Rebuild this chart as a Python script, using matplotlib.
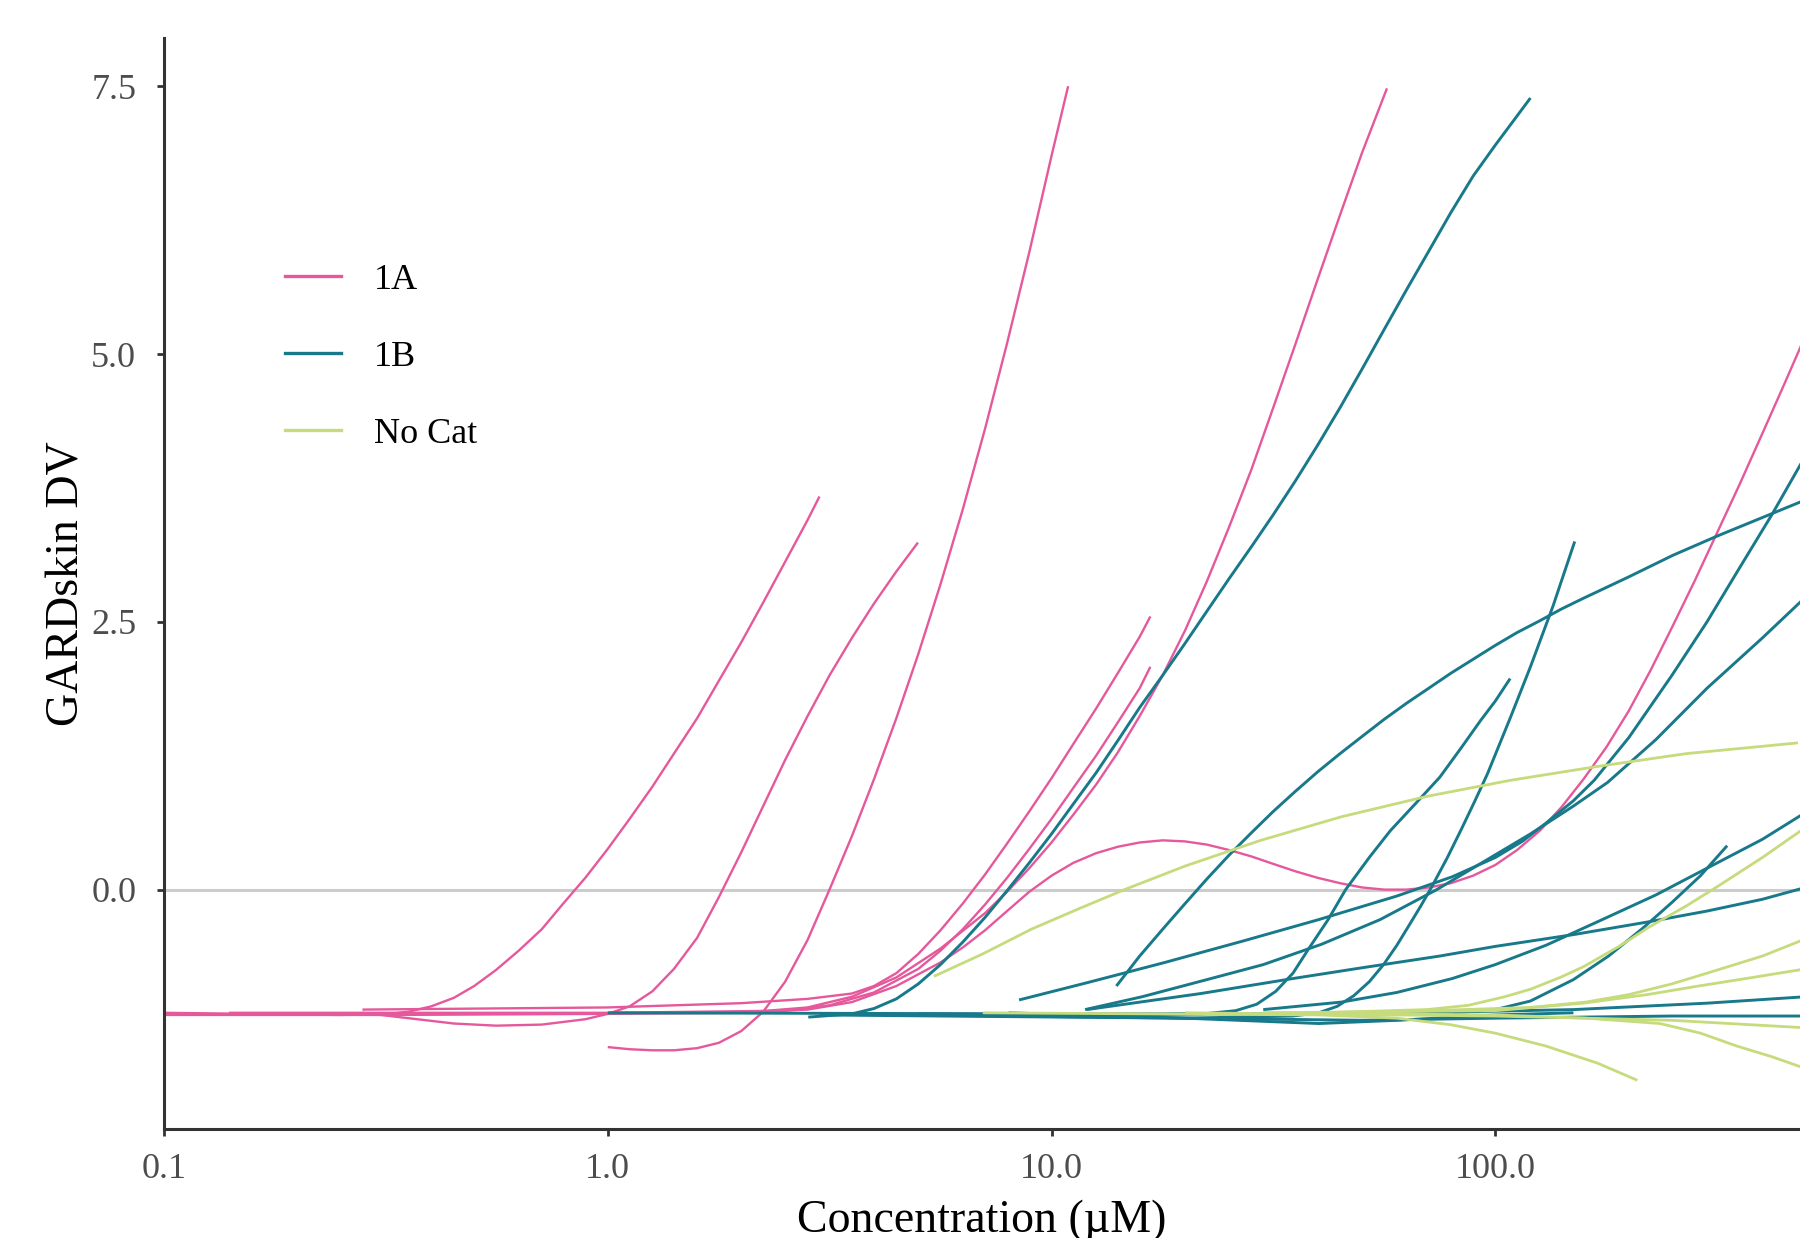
import matplotlib
matplotlib.use("Agg")
import matplotlib.pyplot as plt
from matplotlib.lines import Line2D

plt.rcParams["font.family"] = ["Liberation Serif", "DejaVu Serif"]

# %% data: each fitted response curve (concentration in uM, DV)

# category 1A
a1_x = [0.1, 0.16, 0.25, 0.32, 0.355, 0.40, 0.45, 0.50, 0.56, 0.63, 0.71, 0.79, 0.89,
        1.0, 1.12, 1.26, 1.41, 1.59, 1.78, 2.0, 2.24, 2.51, 2.82, 3.0]
a1_y = [-1.15, -1.16, -1.17, -1.16, -1.14, -1.09, -1.01, -0.90, -0.75, -0.57, -0.37, -0.14, 0.11,
        0.38, 0.66, 0.96, 1.27, 1.60, 1.95, 2.31, 2.68, 3.06, 3.45, 3.67]

a2_x = [0.28, 0.355, 0.45, 0.56, 0.71, 0.89, 1.0, 1.12, 1.26, 1.41, 1.59, 1.78, 2.0,
        2.24, 2.51, 2.82, 3.16, 3.55, 3.98, 4.47, 5.0]
a2_y = [-1.15, -1.20, -1.25, -1.27, -1.26, -1.21, -1.16, -1.09, -0.95, -0.74, -0.45, -0.07, 0.35,
        0.78, 1.21, 1.62, 2.0, 2.35, 2.67, 2.97, 3.24]

a3_x = [1.0, 1.12, 1.26, 1.41, 1.59, 1.78, 2.0, 2.24, 2.51, 2.82, 3.16, 3.55, 3.98,
        4.47, 5.01, 5.62, 6.31, 7.08, 7.94, 8.91, 10.0, 10.9]
a3_y = [-1.47, -1.49, -1.50, -1.50, -1.48, -1.43, -1.32, -1.14, -0.86, -0.47, 0.0, 0.5, 1.03,
        1.6, 2.2, 2.85, 3.55, 4.3, 5.1, 5.95, 6.85, 7.5]

a4_x = [0.1, 0.32, 1.0, 2.0, 2.82, 3.55, 4.47, 5.62, 7.08, 7.94, 8.91, 10.0, 11.2, 12.6,
        14.1, 15.8, 17.8, 20.0, 22.4, 25.1, 28.2, 31.6, 35.5, 39.8, 44.7, 50.1, 57]
a4_y = [-1.17, -1.17, -1.16, -1.15, -1.10, -1.0, -0.82, -0.55, -0.22, -0.02, 0.2, 0.44, 0.7, 0.98,
        1.28, 1.62, 2.0, 2.42, 2.88, 3.38, 3.92, 4.5, 5.1, 5.7, 6.3, 6.88, 7.48]

a5_x = [0.28, 1.0, 2.0, 2.82, 3.55, 3.98, 4.47, 5.01, 5.62, 6.31, 7.08, 7.94, 8.91,
        10.0, 11.2, 12.6, 14.1, 15.8, 16.7]
a5_y = [-1.12, -1.10, -1.06, -1.02, -0.97, -0.90, -0.78, -0.6, -0.38, -0.13, 0.14, 0.43, 0.73,
        1.04, 1.36, 1.69, 2.02, 2.36, 2.55]

a6_x = [0.14, 1.0, 2.51, 3.16, 3.98, 5.01, 5.62, 6.31, 7.08, 7.94, 8.91, 10.0, 11.2,
        12.6, 14.1, 15.8, 16.7]
a6_y = [-1.15, -1.15, -1.13, -1.08, -0.96, -0.74, -0.57, -0.37, -0.14, 0.11, 0.38, 0.66, 0.95,
        1.25, 1.56, 1.88, 2.08]

a7_x = [2.0, 2.82, 3.55, 4.47, 5.62, 6.31, 7.08, 7.94, 8.91, 10.0, 11.2, 12.6, 14.1, 15.8,
        17.8, 20.0, 22.4, 25.1, 28.2, 31.6, 35.5, 39.8, 44.7, 50.1, 56.2, 63.1, 70.8, 79.4,
        89.1, 100, 112, 126, 141, 158, 178, 200, 224, 251, 282, 316, 355, 398, 447, 501]
a7_y = [-1.15, -1.12, -1.05, -0.90, -0.68, -0.54, -0.38, -0.2, -0.02, 0.13, 0.25, 0.34, 0.40, 0.44,
        0.46, 0.45, 0.42, 0.37, 0.31, 0.24, 0.17, 0.11, 0.06, 0.02, 0.0, 0.0, 0.02, 0.06,
        0.13, 0.23, 0.37, 0.55, 0.77, 1.03, 1.33, 1.67, 2.05, 2.46, 2.89, 3.33, 3.78, 4.24, 4.71, 5.18]

# category 1B
b1_x = [2.83, 3.55, 3.98, 4.47, 5.01, 5.62, 6.31, 7.08, 7.94, 8.91, 10.0, 11.2, 12.6, 14.1,
        15.8, 17.8, 20.0, 22.4, 25.1, 28.2, 31.6, 35.5, 39.8, 44.7, 50.1, 56.2, 63.1, 70.8,
        79.4, 89.1, 100, 110, 120]
b1_y = [-1.19, -1.16, -1.11, -1.02, -0.88, -0.70, -0.49, -0.26, -0.01, 0.25, 0.52, 0.80, 1.09, 1.39,
        1.70, 2.0, 2.3, 2.6, 2.9, 3.2, 3.5, 3.82, 4.15, 4.5, 4.86, 5.23, 5.6, 5.96,
        6.32, 6.66, 6.95, 7.18, 7.39]

b2_x = [14, 15.8, 17.8, 20.0, 22.4, 25.1, 28.2, 31.6, 35.5, 39.8, 44.7, 50.1, 56.2, 63.1,
        70.8, 79.4, 89.1, 100, 112, 126, 141, 158, 200, 251, 316, 398, 501]
b2_y = [-0.9, -0.62, -0.37, -0.13, 0.1, 0.32, 0.53, 0.73, 0.92, 1.10, 1.27, 1.43, 1.59, 1.74,
        1.88, 2.02, 2.15, 2.28, 2.40, 2.51, 2.62, 2.72, 2.92, 3.12, 3.30, 3.47, 3.64]

b3_x = [5, 15, 22, 26, 29, 32, 35, 38, 42, 46, 52, 58, 66, 75, 84, 92.7, 100, 108]
b3_y = [-1.16, -1.17, -1.16, -1.13, -1.07, -0.95, -0.78, -0.55, -0.28, 0.0, 0.3, 0.55, 0.8, 1.05,
        1.33, 1.58, 1.76, 1.97]

b4_x = [5, 20, 35, 40, 44, 48, 52, 56, 60, 64, 68, 72, 78, 84, 90, 96, 108, 120, 135, 151]
b4_y = [-1.17, -1.2, -1.18, -1.15, -1.09, -0.99, -0.86, -0.7, -0.52, -0.33, -0.15, 0.03, 0.3, 0.57,
        0.83, 1.08, 1.6, 2.08, 2.65, 3.25]

b5_x = [8.45, 12, 18, 27, 40, 60, 80, 100, 115, 130, 150, 167, 200, 250, 300, 350, 420, 500]
b5_y = [-1.03, -0.87, -0.68, -0.48, -0.28, -0.06, 0.12, 0.3, 0.45, 0.62, 0.83, 1.02, 1.42, 2.0,
        2.5, 2.96, 3.5, 4.05]

b6_x = [11.9, 16, 22.4, 30, 40.6, 55, 73.8, 95, 120, 150, 179, 230, 300, 400, 500]
b6_y = [-1.12, -1.0, -0.84, -0.7, -0.51, -0.28, 0.0, 0.27, 0.52, 0.78, 1.0, 1.4, 1.88, 2.35, 2.73]

b7_x = [30, 45, 60, 80, 100, 130, 170, 230, 300, 400, 500]
b7_y = [-1.12, -1.05, -0.96, -0.83, -0.7, -0.52, -0.3, -0.05, 0.2, 0.47, 0.72]

b8_x = [12, 21.7, 35, 50, 75, 100, 150, 222, 300, 400, 500]
b8_y = [-1.12, -0.97, -0.83, -0.73, -0.62, -0.53, -0.42, -0.3, -0.2, -0.09, 0.02]

b9_x = [80, 100, 120, 150, 180, 215, 250, 290, 333]
b9_y = [-1.15, -1.12, -1.04, -0.84, -0.62, -0.36, -0.12, 0.13, 0.41]

b10_x = [1.0, 10, 50, 150, 300, 500]
b10_y = [-1.15, -1.16, -1.16, -1.12, -1.06, -1.0]

b11_x = [3.0, 20, 50, 100, 250, 500]
b11_y = [-1.17, -1.2, -1.22, -1.2, -1.18, -1.18]

b12_x = [8, 20, 40, 60, 100, 150]
b12_y = [-1.15, -1.2, -1.25, -1.22, -1.17, -1.15]

# no category
c1_x = [5.43, 7, 9, 11.5, 14.6, 20, 29.6, 45, 70, 108, 170, 270, 481]
c1_y = [-0.81, -0.6, -0.37, -0.18, 0.0, 0.22, 0.46, 0.68, 0.87, 1.02, 1.15, 1.27, 1.37]

c2_x = [7, 40, 60, 79, 100, 130, 170, 209]
c2_y = [-1.15, -1.17, -1.2, -1.26, -1.34, -1.46, -1.62, -1.78]

c3_x = [30, 100, 160, 235, 290, 350, 420, 500]
c3_y = [-1.15, -1.17, -1.2, -1.25, -1.34, -1.46, -1.56, -1.67]

c4_x = [20, 100, 250, 500]
c4_y = [-1.15, -1.18, -1.22, -1.29]

c5_x = [30, 100, 158, 220, 287, 380, 500]
c5_y = [-1.15, -1.13, -1.06, -0.98, -0.9, -0.82, -0.74]

c6_x = [50, 120, 160, 200, 250, 300, 400, 500]
c6_y = [-1.15, -1.1, -1.05, -0.98, -0.88, -0.78, -0.62, -0.46]

c7_x = [40, 70, 87, 105, 120, 140, 158, 190, 222, 270, 317, 400, 500]
c7_y = [-1.15, -1.12, -1.08, -1.0, -0.93, -0.82, -0.72, -0.53, -0.35, -0.15, 0.03, 0.3, 0.58]

categories = ["1A", "1B", "No Cat"]
colors = ["#E5589B", "#17798A", "#C6DB7C"]
curves = [
    [(a1_x, a1_y), (a2_x, a2_y), (a3_x, a3_y), (a4_x, a4_y), (a5_x, a5_y),
     (a6_x, a6_y), (a7_x, a7_y)],
    [(b1_x, b1_y), (b2_x, b2_y), (b3_x, b3_y), (b4_x, b4_y), (b5_x, b5_y),
     (b6_x, b6_y), (b7_x, b7_y), (b8_x, b8_y), (b9_x, b9_y), (b10_x, b10_y),
     (b11_x, b11_y), (b12_x, b12_y)],
    [(c1_x, c1_y), (c2_x, c2_y), (c3_x, c3_y), (c4_x, c4_y), (c5_x, c5_y),
     (c6_x, c6_y), (c7_x, c7_y)],
]
line_widths = [1.7, 2.1, 2.0]

x_ticks = [0.1, 1, 10, 100]
x_tick_labels = ["0.1", "1.0", "10.0", "100.0"]
y_ticks = [0, 2.5, 5, 7.5]
y_tick_labels = ["0.0", "2.5", "5.0", "7.5"]

# %%

fig = plt.figure(figsize=(18, 12.38), dpi=100)
ax = fig.add_axes([164 / 1800, 1 - 1128.5 / 1238, 1636 / 1800, 1090.5 / 1238])

ax.axhline(0, color="#cccccc", linewidth=2.2, zorder=0.5)

for group, color, lw in zip(curves, colors, line_widths):
    for cx, cy in group:
        ax.plot(cx, cy, color=color, linewidth=lw, solid_capstyle="butt",
                solid_joinstyle="round", zorder=2)

ax.set_xscale("log")
ax.set_xlim(0.1, 486)
ax.set_ylim(-2.23, 7.95)

ax.set_xticks(x_ticks)
ax.set_xticklabels(x_tick_labels)
ax.minorticks_off()
ax.set_yticks(y_ticks)
ax.set_yticklabels(y_tick_labels)

ax.tick_params(axis="both", length=5, width=2.0, color="#333333",
               labelcolor="#4d4d4d", labelsize=26)
ax.tick_params(axis="x", pad=13)
ax.tick_params(axis="y", pad=15)

ax.spines[["right", "top"]].set_visible(False)
for side in ["left", "bottom"]:
    ax.spines[side].set_linewidth(2.2)
    ax.spines[side].set_color("#333333")

ax.set_xlabel("Concentration (µM)", fontsize=33, labelpad=9)
ax.set_ylabel("GARDskin DV", fontsize=33, labelpad=2)

handles = [Line2D([0], [0], color=c, linewidth=2.4) for c in colors]
ax.legend(handles, categories, loc="upper left", bbox_to_anchor=(0.074, 0.793),
          frameon=False, fontsize=26, handlelength=1.55, handletextpad=0.9,
          labelspacing=1.21, borderpad=0, borderaxespad=0)

fig.savefig("out.png", dpi=100)
